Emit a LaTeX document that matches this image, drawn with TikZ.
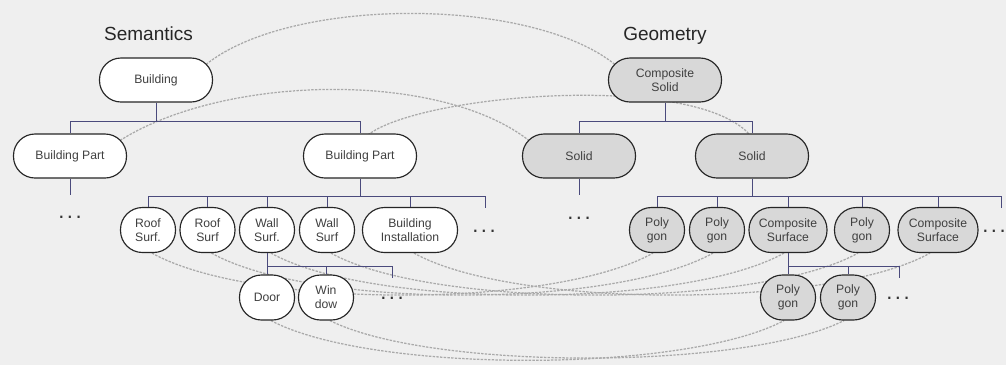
\documentclass[tikz,border=0pt]{standalone}
\usepackage{fontspec}
\setmainfont{Liberation Sans}
\pgfdeclarelayer{background}
\pgfsetlayers{background,main}
\definecolor{bgc}{HTML}{EFEFEF}
\definecolor{geofill}{HTML}{D8D8D8}
\definecolor{treec}{HTML}{4A4A7C}
\definecolor{linkc}{HTML}{A9A9A9}
\definecolor{txtc}{HTML}{404040}
\newcommand{\dgnodefont}{\fontsize{12.2}{14}\selectfont}
\newcommand{\dgdots}{.\kern2.5pt.\kern2.5pt.}
\tikzset{
  box/.style={draw=black!85, line width=1.15pt, inner sep=0pt, align=center, font=\dgnodefont, text=txtc},
  bignode/.style={box, rounded corners=21.5pt, minimum width=113pt, minimum height=44pt},
  leaf/.style={box, rounded corners=22pt, minimum width=55pt, minimum height=45pt},
  semf/.style={fill=white},
  geof/.style={fill=geofill},
  tree/.style={draw=treec, line width=1pt},
  link/.style={draw=linkc, line width=1.25pt, dash pattern=on 2.4pt off 1.3pt},
  titletext/.style={font=\fontsize{19}{22}\selectfont, text=black!85, anchor=base, inner sep=0pt},
  dotstext/.style={font=\fontsize{22}{22}\selectfont, text=black!80, anchor=base, inner sep=0pt},
}
\begin{document}
\begin{tikzpicture}[x=1pt,y=-1pt]
\useasboundingbox (0,0) rectangle (1006,365);
\begin{pgfonlayer}{background}
  \fill[bgc] (0,0) rectangle (1006,365);
\end{pgfonlayer}

% titles
\node[titletext] (tsem) at (148.5,40) {Semantics};
\node[titletext] (tgeo) at (665,40) {Geometry};

% semantic tree
\node[bignode,semf] (bld) at (156,80) {Building};
\node[bignode,semf] (bp1) at (70,156) {Building Part};
\node[bignode,semf] (bp2) at (360,156) {Building Part};
\node[leaf,semf] (rs1) at (148,230) {Roof\\Surf.};
\node[leaf,semf] (rs2) at (207.5,230) {Roof\\Surf};
\node[leaf,semf] (ws1) at (267,230) {Wall\\Surf.};
\node[leaf,semf] (ws2) at (327,230) {Wall\\Surf};
\node[leaf,semf,minimum width=95pt] (bi) at (410,230) {Building\\Installation};
\node[leaf,semf] (door) at (267,297.5) {Door};
\node[leaf,semf] (win) at (326,297.5) {Win\\dow};

% geometry tree
\node[bignode,geof] (csol) at (665,80) {Composite\\Solid};
\node[bignode,geof] (sol1) at (579,156) {Solid};
\node[bignode,geof] (sol2) at (752,156) {Solid};
\node[leaf,geof] (pg1) at (657,230) {Poly\\gon};
\node[leaf,geof] (pg2) at (717,230) {Poly\\gon};
\node[leaf,geof,minimum width=78pt] (cs1) at (788,230) {Composite\\Surface};
\node[leaf,geof] (pg3) at (862,230) {Poly\\gon};
\node[leaf,geof,minimum width=80pt] (cs2) at (938,230) {Composite\\Surface};
\node[leaf,geof] (pg4) at (788,297.5) {Poly\\gon};
\node[leaf,geof] (pg5) at (848,297.5) {Poly\\gon};

% dots
\node[dotstext] (d1) at (70,218) {\dgdots};
\node[dotstext] (d2) at (484,232) {\dgdots};
\node[dotstext] (d3) at (392,299) {\dgdots};
\node[dotstext] (d4) at (579,219) {\dgdots};
\node[dotstext] (d5) at (994,232) {\dgdots};
\node[dotstext] (d6) at (898,299) {\dgdots};

% open ends
\coordinate (e1) at (70,195);
\coordinate (e2) at (579,195);
\coordinate (o1) at (485,208);
\coordinate (o2) at (1001,208);
\coordinate (o3) at (392,278);
\coordinate (o4) at (899,278);

% tree connectors
\draw[tree] (bld.south) -- ++(0,19) coordinate (j0);
\draw[tree] (j0) -| (bp1.north);
\draw[tree] (j0) -| (bp2.north);
\draw[tree] (bp1.south) -- (e1);
\draw[tree] (bp2.south) -- ++(0,18) coordinate (j2);
\foreach \n in {rs1,rs2,ws1,ws2,bi} \draw[tree] (j2) -| (\n.north);
\draw[tree] (j2) -| (o1);
\draw[tree] (ws1.south) -- ++(0,13) coordinate (j4);
\foreach \n in {door,win} \draw[tree] (j4) -| (\n.north);
\draw[tree] (j4) -| (o3);

\draw[tree] (csol.south) -- ++(0,19) coordinate (j1);
\draw[tree] (j1) -| (sol1.north);
\draw[tree] (j1) -| (sol2.north);
\draw[tree] (sol1.south) -- (e2);
\draw[tree] (sol2.south) -- ++(0,18) coordinate (j3);
\foreach \n in {pg1,pg2,cs1,pg3,cs2} \draw[tree] (j3) -| (\n.north);
\draw[tree] (j3) -| (o2);
\draw[tree] (cs1.south) -- ++(0,13) coordinate (j5);
\foreach \n in {pg4,pg5} \draw[tree] (j5) -| (\n.north);
\draw[tree] (j5) -| (o4);

% semantic-geometry links
\begin{pgfonlayer}{background}
  \draw[link] ([shift={(-7,7)}]bld.north east) .. controls +(85,-68) and +(-85,-68) .. ([shift={(7,7)}]csol.north west);
  \draw[link] ([shift={(-7,7)}]bp1.north east) .. controls +(105,-66) and +(-90,-70) .. ([shift={(7,7)}]sol1.north west);
  \draw[link] ([shift={(5,4)}]bp2.north) .. controls +(45,-43) and +(-52,-68) .. ([shift={(0,4)}]sol2.north);
  \draw[link] ([xshift=4pt]rs1.south) .. controls +(100,56) and +(-100,56) .. ([xshift=-4pt]pg1.south);
  \draw[link] ([xshift=4pt]rs2.south) .. controls +(100,56) and +(-100,56) .. ([xshift=-4pt]pg2.south);
  \draw[link] ([xshift=4pt]ws1.south) .. controls +(100,56) and +(-100,56) .. ([xshift=-4pt]cs1.south);
  \draw[link] ([xshift=4pt]ws2.south) .. controls +(100,56) and +(-100,56) .. ([xshift=-4pt]pg3.south);
  \draw[link] ([xshift=4pt]bi.south) .. controls +(100,56) and +(-100,56) .. ([xshift=-8pt]cs2.south);
  \draw[link] ([xshift=4pt]door.south) .. controls +(100,53) and +(-100,53) .. ([xshift=-4pt]pg4.south);
  \draw[link] ([xshift=4pt]win.south) .. controls +(100,50) and +(-100,50) .. ([xshift=-4pt]pg5.south);
\end{pgfonlayer}
\end{tikzpicture}
\end{document}
